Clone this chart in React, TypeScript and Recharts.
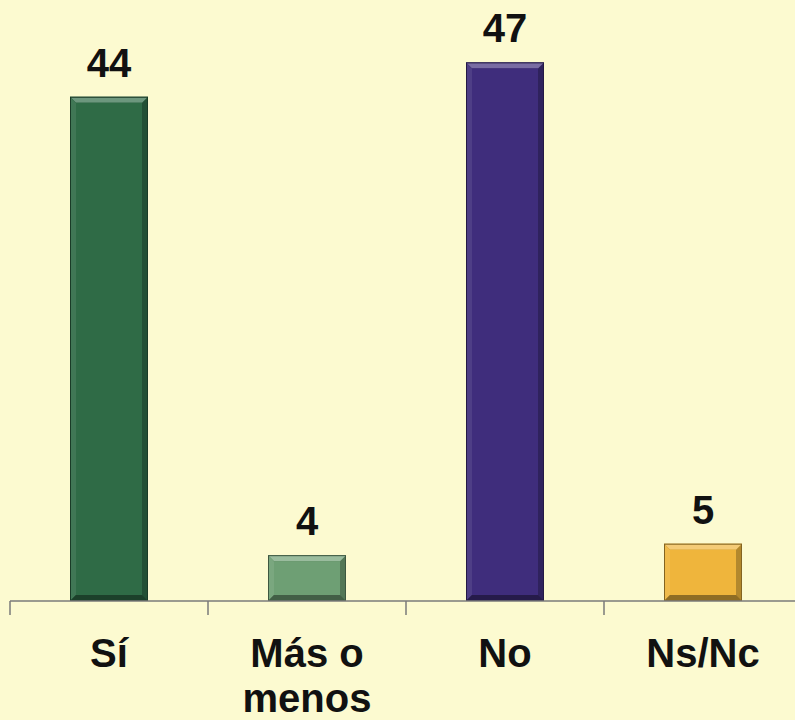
import { BarChart, Bar, XAxis, YAxis, Cell, LabelList } from 'recharts'

const categories = ['Sí', 'Más o menos', 'No', 'Ns/Nc']
const values = [44, 4, 47, 5]
const barColors = ['#2F6B46', '#6E9F74', '#3F2D7C', '#EFB53C']

const data = categories.map((name, i) => ({ name, value: values[i] }))

const tickLines: Record<string, string[]> = {
  'Más o menos': ['Más o', 'menos'],
}

function shade(hex: string, amt: number) {
  const n = parseInt(hex.slice(1), 16)
  const mix = (c: number) =>
    Math.round(amt > 0 ? c + (255 - c) * amt : c * (1 + amt))
  const r = mix((n >> 16) & 255)
  const g = mix((n >> 8) & 255)
  const b = mix(n & 255)
  return `rgb(${r},${g},${b})`
}

function BevelBar(props: any) {
  const { x, y, width, height, index } = props
  const c = barColors[index]
  const b = 6
  return (
    <g>
      <rect x={x} y={y} width={width} height={height} fill={shade(c, -0.25)} />
      <polygon
        points={`${x},${y} ${x + width},${y} ${x + width - b},${y + b} ${x + b},${y + b}`}
        fill={shade(c, 0.3)}
      />
      <polygon
        points={`${x},${y} ${x + b},${y + b} ${x + b},${y + height - b} ${x},${y + height}`}
        fill={shade(c, 0.08)}
      />
      <polygon
        points={`${x},${y + height} ${x + b},${y + height - b} ${x + width - b},${y + height - b} ${x + width},${y + height}`}
        fill={shade(c, -0.4)}
      />
      <rect x={x + b} y={y + b} width={width - 2 * b} height={height - 2 * b} fill={c} />
      <rect
        x={x + 0.5}
        y={y + 0.5}
        width={width - 1}
        height={height - 1}
        fill="none"
        stroke={shade(c, -0.45)}
        strokeWidth={1}
      />
    </g>
  )
}

function CategoryTick(props: any) {
  const { x, y, payload } = props
  const lines = tickLines[payload.value] || [payload.value]
  return (
    <g>
      <line x1={x - 99} y1={y - 8} x2={x - 99} y2={y + 6} stroke="#7a7a7a" strokeWidth={1.5} />
      {lines.map((line, i) => (
        <text
          key={line}
          x={x}
          y={y + 58 + i * 45}
          textAnchor="middle"
          fontFamily="'Liberation Sans', Arial, sans-serif"
          fontWeight="bold"
          fontSize={40}
          fill="#111"
        >
          {line}
        </text>
      ))}
    </g>
  )
}

export default function App() {
  return (
    <div
      style={{
        position: 'fixed',
        left: 0,
        top: 0,
        width: 795,
        height: 720,
        overflow: 'hidden',
        background: '#FCFAD0',
      }}
    >
      <BarChart
        width={805}
        height={720}
        data={data}
        margin={{ top: 28, right: 3, left: 10, bottom: 19 }}
      >
        <XAxis
          dataKey="name"
          height={100}
          tickLine={false}
          axisLine={{ stroke: '#7a7a7a', strokeWidth: 1.5 }}
          tick={<CategoryTick />}
          interval={0}
        />
        <YAxis hide domain={[0, 50]} />
        <Bar dataKey="value" barSize={78} shape={<BevelBar />} isAnimationActive={false}>
          {data.map((d, i) => (
            <Cell key={d.name} fill={barColors[i]} />
          ))}
          <LabelList
            dataKey="value"
            position="top"
            offset={20}
            fontFamily="'Liberation Sans', Arial, sans-serif"
            fontWeight="bold"
            fontSize={40}
            fill="#111"
          />
        </Bar>
      </BarChart>
    </div>
  )
}
